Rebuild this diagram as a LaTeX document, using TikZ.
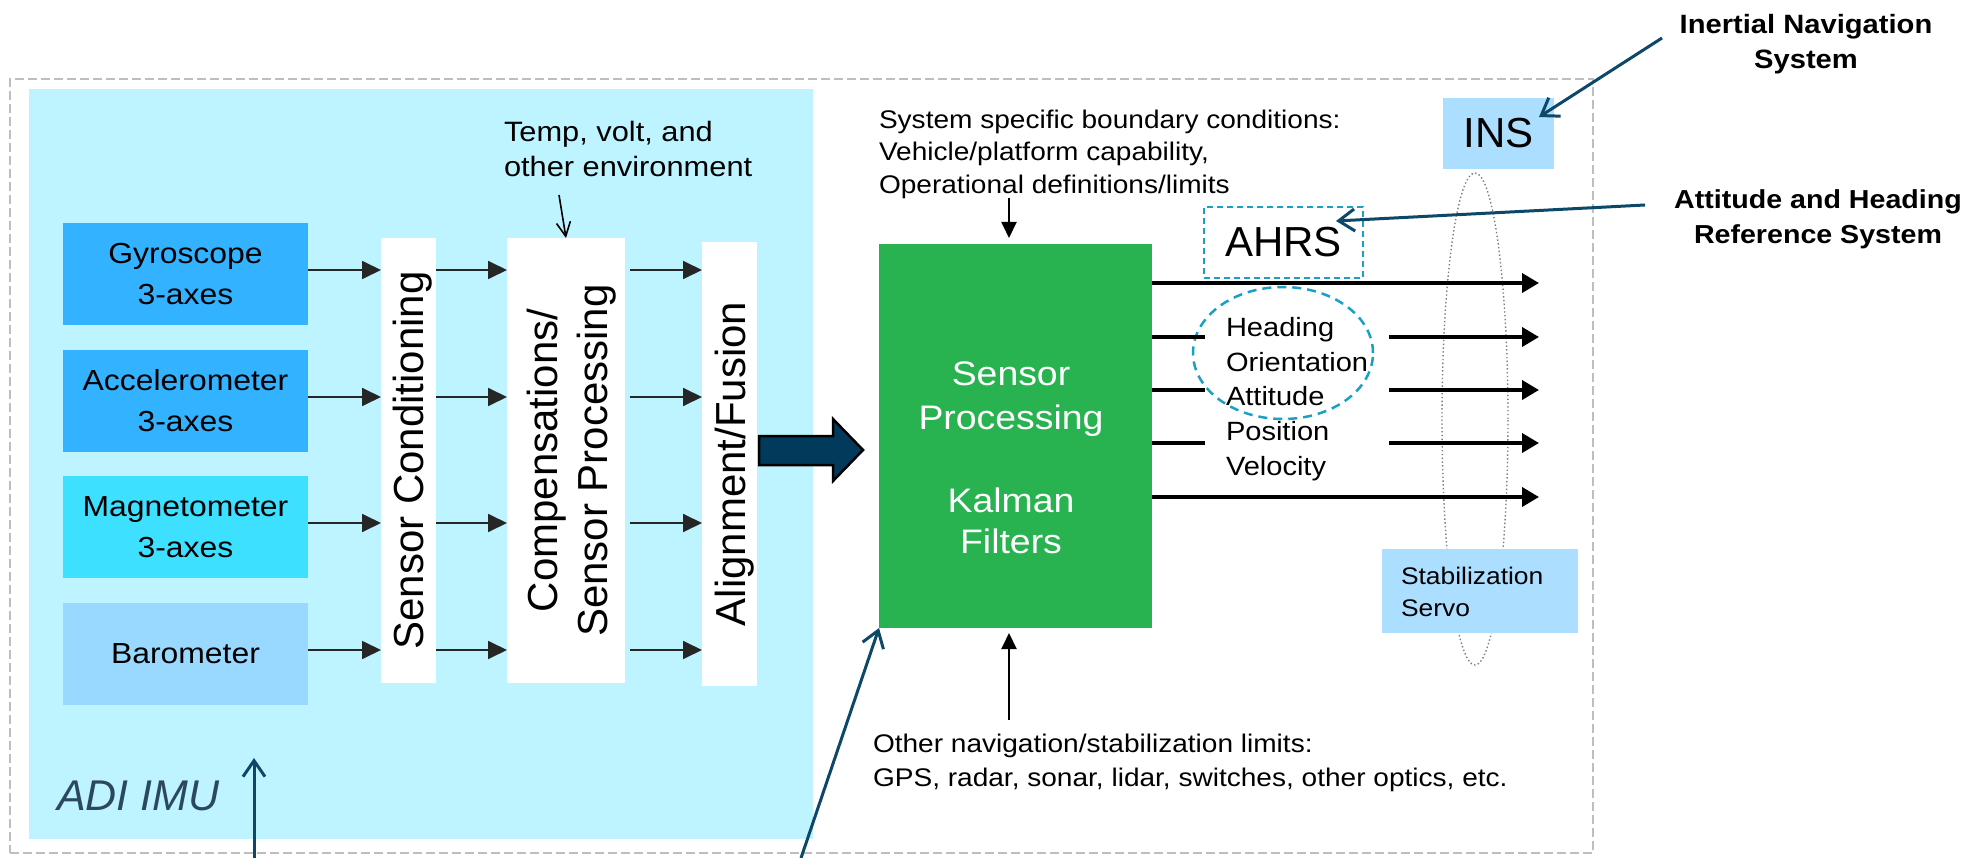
\documentclass[tikz,border=0pt]{standalone}
\usepackage{fontspec}
\setmainfont{Liberation Sans}[FakeStretch=1.1]
\newfontfamily\rotfont{Liberation Sans}
\usetikzlibrary{arrows.meta,shapes.geometric}
\newcommand{\fsz}[2]{\fontsize{#1}{#2}\selectfont}
\definecolor{imubg}{RGB}{189,244,255}
\definecolor{gyroc}{RGB}{51,178,255}
\definecolor{magc}{RGB}{61,225,255}
\definecolor{baroc}{RGB}{153,216,255}
\definecolor{insc}{RGB}{172,222,255}
\definecolor{kgreen}{RGB}{40,178,80}
\definecolor{navyc}{RGB}{2,58,92}
\definecolor{annotc}{RGB}{14,72,105}
\definecolor{dashc}{RGB}{25,160,196}
\definecolor{imutext}{RGB}{44,72,94}
\definecolor{bordergray}{RGB}{190,190,190}
\definecolor{dotgray}{RGB}{125,125,125}
\begin{document}
\begin{tikzpicture}[x=1pt,y=-1pt,
 every node/.style={inner sep=0pt, outer sep=0pt},
 sensorbox/.style={rectangle, anchor=north west, minimum width=245pt, minimum height=102pt, align=center, font=\fsz{29}{41}},
 barbox/.style={rectangle, fill=white, anchor=north west},
 bartext/.style={rotate=90, align=center, font=\rotfont\fsz{42}{50}},
 rowarrow/.style={draw=black!85, line width=1.8pt, -{Triangle[length=19pt,width=18pt]}},
 outline/.style={draw=black, line width=3.7pt},
 outarrow/.style={outline, -{Triangle[length=17pt,width=19pt]}},
 solidarrow/.style={draw=black, line width=2pt, -{Triangle[length=16pt,width=15pt]}},
 thinbarb/.style={draw=black, line width=1.6pt, -{Straight Barb[length=14pt,width=14pt]}},
 annot/.style={draw=annotc, line width=3pt, -{Straight Barb[length=16pt,width=22pt]}},
 lightbox/.style={rectangle, fill=insc, anchor=north west},
 plaintext/.style={align=left, anchor=west},
]
\useasboundingbox (0,0) rectangle (1970,858);

% outer system border and IMU background
\node[draw=bordergray, line width=2.5pt, dash pattern=on 9pt off 4pt, anchor=north west, minimum width=1583pt, minimum height=774pt] (sysbox) at (10,79) {};
\node[fill=imubg, anchor=north west, minimum width=784pt, minimum height=750pt] (imu) at (29,89) {};

% sensors
\node[sensorbox, fill=gyroc] (gyro) at (63,223) {Gyroscope\\3-axes};
\node[sensorbox, fill=gyroc] (acc) at (63,350) {Accelerometer\\3-axes};
\node[sensorbox, fill=magc] (mag) at (63,476) {Magnetometer\\3-axes};
\node[sensorbox, fill=baroc] (baro) at (63,603) {Barometer};

% processing bars
\node[barbox, minimum width=55pt, minimum height=445pt] (sc) at (381,238) {};
\node[barbox, minimum width=118pt, minimum height=445pt] (comp) at (507,238) {};
\node[barbox, minimum width=55pt, minimum height=444pt] (align) at (702,242) {};
\node[bartext] (sctxt) at ([xshift=4pt]sc.center) {Sensor Conditioning};
\node[bartext] (comptxt) at ([xshift=6pt]comp.center) {Compensations/\\Sensor Processing};
\node[bartext] (aligntxt) at ([xshift=5pt]align.center) {Alignment/Fusion};

% environment input
\node[plaintext, font=\fsz{28}{35}] (temp) at (504,149) {Temp, volt, and\\other environment};
\coordinate (tempfrom) at (559,195);
\draw[thinbarb] (tempfrom) -- (comp.north);

% row arrows
\coordinate (ce) at ([xshift=5pt]comp.east);
\foreach \b in {gyro,acc,mag,baro}{
  \coordinate (r\b) at ([yshift=4pt]\b.east);
  \draw[rowarrow] (r\b) -- (sc.west |- r\b);
  \draw[rowarrow] (sc.east |- r\b) -- (comp.west |- r\b);
  \draw[rowarrow] (ce |- r\b) -- (align.west |- r\b);
}

% big block arrow
\draw[black, line width=2.5pt, fill=navyc, line join=miter] (759,436) -- (833,436) -- (833,419) -- (863,450) -- (833,481) -- (833,465) -- (759,465) -- cycle;

% Kalman block
\node[fill=kgreen, anchor=north west, minimum width=273pt, minimum height=384pt] (kf) at (879,244) {};
\node[font=\fsz{34}{44}, text=white, align=center] (kf1) at (1011,399) {Sensor\\Processing};
\node[font=\fsz{34}{41}, text=white, align=center] (kf2) at (1011,521) {Kalman\\Filters};

% boundary conditions
\node[plaintext, font=\fsz{25.5}{32.5}] (systxt) at (879,154) {System specific boundary conditions:\\Vehicle/platform capability,\\Operational definitions/limits};
\coordinate (sysfrom) at (1009,198);
\draw[solidarrow, shorten >=6pt] (sysfrom) -- (sysfrom |- kf.north);

\node[plaintext, font=\fsz{25.5}{34}] (othtxt) at (873,763) {Other navigation/stabilization limits:\\GPS, radar, sonar, lidar, switches, other optics, etc.};
\coordinate (othfrom) at (1009,720);
\draw[solidarrow, shorten >=5pt] (othfrom) -- (othfrom |- kf.south);

% dotted grouping ellipse
\node[ellipse, draw=dotgray, line width=1.4pt, dash pattern=on 1.4pt off 2.4pt, minimum width=66pt, minimum height=492pt] (dotell) at (1475,419) {};

% INS and AHRS
\node[lightbox, minimum width=111pt, minimum height=71pt, font=\rotfont\fsz{42}{42}] (ins) at (1443,98) {INS};
\node[draw=dashc, line width=2pt, dash pattern=on 6pt off 4pt, anchor=north west, minimum width=159pt, minimum height=71pt, font=\rotfont\fsz{42}{42}] (ahrs) at (1204,207) {AHRS};

% outputs
\foreach \n/\y in {1/283,2/337,3/390,4/443,5/497} \coordinate (out\n) at (1539,\y);
\node[plaintext, font=\fsz{26.4}{34.6}] (outs) at (1226,399) {Heading\\Orientation\\Attitude\\Position\\Velocity};
\node[ellipse, draw=dashc, line width=2.5pt, dash pattern=on 9pt off 6pt, minimum width=180pt, minimum height=132pt] (ahrsell) at (1283,353) {};
\draw[outarrow] (kf.east |- out1) -- (out1);
\foreach \n in {2,3,4}{
  \draw[outline, shorten >=21pt] (kf.east |- out\n) -- (outs.west |- out\n);
  \draw[outarrow, shorten <=21pt] (outs.east |- out\n) -- (out\n);
}
\draw[outarrow] (kf.east |- out5) -- (out5);

% stabilization servo
\node[lightbox, minimum width=196pt, minimum height=84pt] (stab) at (1382,549) {};
\node[plaintext, font=\fsz{24}{32}] (stabtxt) at (1401,592) {Stabilization\\Servo};

% labels and annotation arrows
\node[anchor=west, font=\rotfont\fsz{43}{43}\itshape, text=imutext] (imulbl) at (57,796) {ADI IMU};
\coordinate (imuptr) at (254,858);
\coordinate (imutip) at (254,758);
\draw[annot] (imuptr) -- (imutip);
\coordinate (kfptr) at (801,858);
\draw[annot] (kfptr) -- (kf.south west);

\node[font=\fsz{26.5}{35}\bfseries, align=center] (inslbl) at (1806,44) {Inertial Navigation\\System};
\coordinate (insptr) at (1662,38);
\draw[annot] (insptr) -- ([xshift=-15pt,yshift=-19pt]ins.north east);

\node[font=\fsz{26}{35}\bfseries, align=center] (ahrslbl) at (1818,219) {Attitude and Heading\\Reference System};
\coordinate (ahrsptr) at (1645,205);
\draw[annot] (ahrsptr) -- ([xshift=-27pt,yshift=21.5pt]ahrs.east);
\end{tikzpicture}
\end{document}
